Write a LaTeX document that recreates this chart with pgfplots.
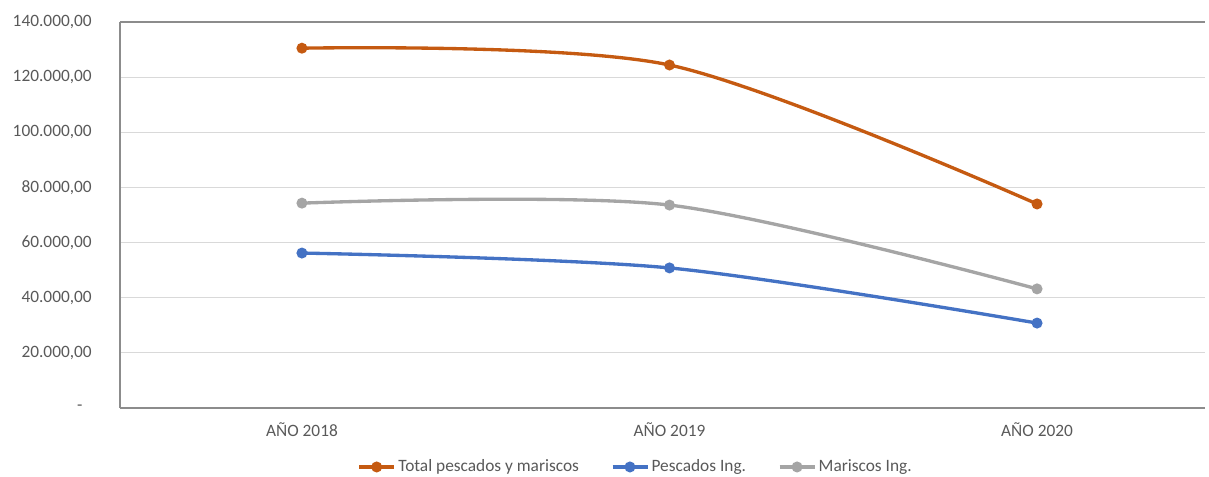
\documentclass[border=0pt]{standalone}
\usepackage{fontspec}
\setmainfont{Carlito}
\usepackage{pgfplots}
\pgfplotsset{compat=1.18}

\definecolor{cTotal}{HTML}{C55A11}
\definecolor{cPesc}{HTML}{4472C4}
\definecolor{cMar}{HTML}{A5A5A5}
\definecolor{gridgray}{HTML}{D9D9D9}
\definecolor{axisgray}{HTML}{8C8C8C}
\definecolor{labelgray}{HTML}{595959}

\begin{document}
\begin{tikzpicture}
% fixed page size, 1px = 0.75pt
\useasboundingbox (-90pt,-51.75pt) rectangle (816.75pt,306pt);
\begin{axis}[
    at={(0,0)}, anchor=south west,
    scale only axis,
    width=813.75pt, height=289.5pt,
    xmin=-0.495, xmax=2.457,
    ymin=0, ymax=140000,
    scaled y ticks=false,
    axis x line*=bottom, axis y line*=left,
    axis line style={draw=axisgray, line width=1.1pt, -},
    major tick length=0pt,
    xtick={0,1,2},
    xticklabels={AÑO 2018, AÑO 2019, AÑO 2020},
    ytick={0,20000,...,140000},
    yticklabels={{-\hspace*{7pt}},{20.000,00},{40.000,00},{60.000,00},{80.000,00},{100.000,00},{120.000,00},{140.000,00}},
    ticklabel style={font=\fontsize{13}{15}\selectfont, text=labelgray, inner sep=0pt},
    yticklabel style={anchor=east, xshift=-21pt},
    xticklabel style={anchor=base, yshift=-21.75pt},
    ymajorgrids,
    grid style={draw=gridgray, line width=0.75pt},
    every axis plot/.append style={smooth, tension=0.5, line width=2.5pt, mark=*, mark size=2.8pt},
    legend style={draw=none, at={(0.4756,-0.1528)}, anchor=center,
        legend columns=-1, font=\fontsize{13}{15}\selectfont, text=labelgray,
        /tikz/every even column/.append style={column sep=22pt}},
    legend image code/.code={
        \draw[mark repeat=2, mark phase=2, #1] plot coordinates {(0pt,0pt) (13pt,0pt) (26pt,0pt)};
    },
]
\draw[axisgray, line width=1.1pt] (rel axis cs:0,1) -- (rel axis cs:1,1);

\addplot[color=cTotal] coordinates {(0,130500) (1,124400) (2,74000)};
\addplot[color=cPesc] coordinates {(0,56200) (1,50800) (2,30800)};
\addplot[color=cMar] coordinates {(0,74300) (1,73600) (2,43200)};
\legend{Total pescados y mariscos, Pescados Ing., Mariscos Ing.}
\end{axis}
\end{tikzpicture}
\end{document}
